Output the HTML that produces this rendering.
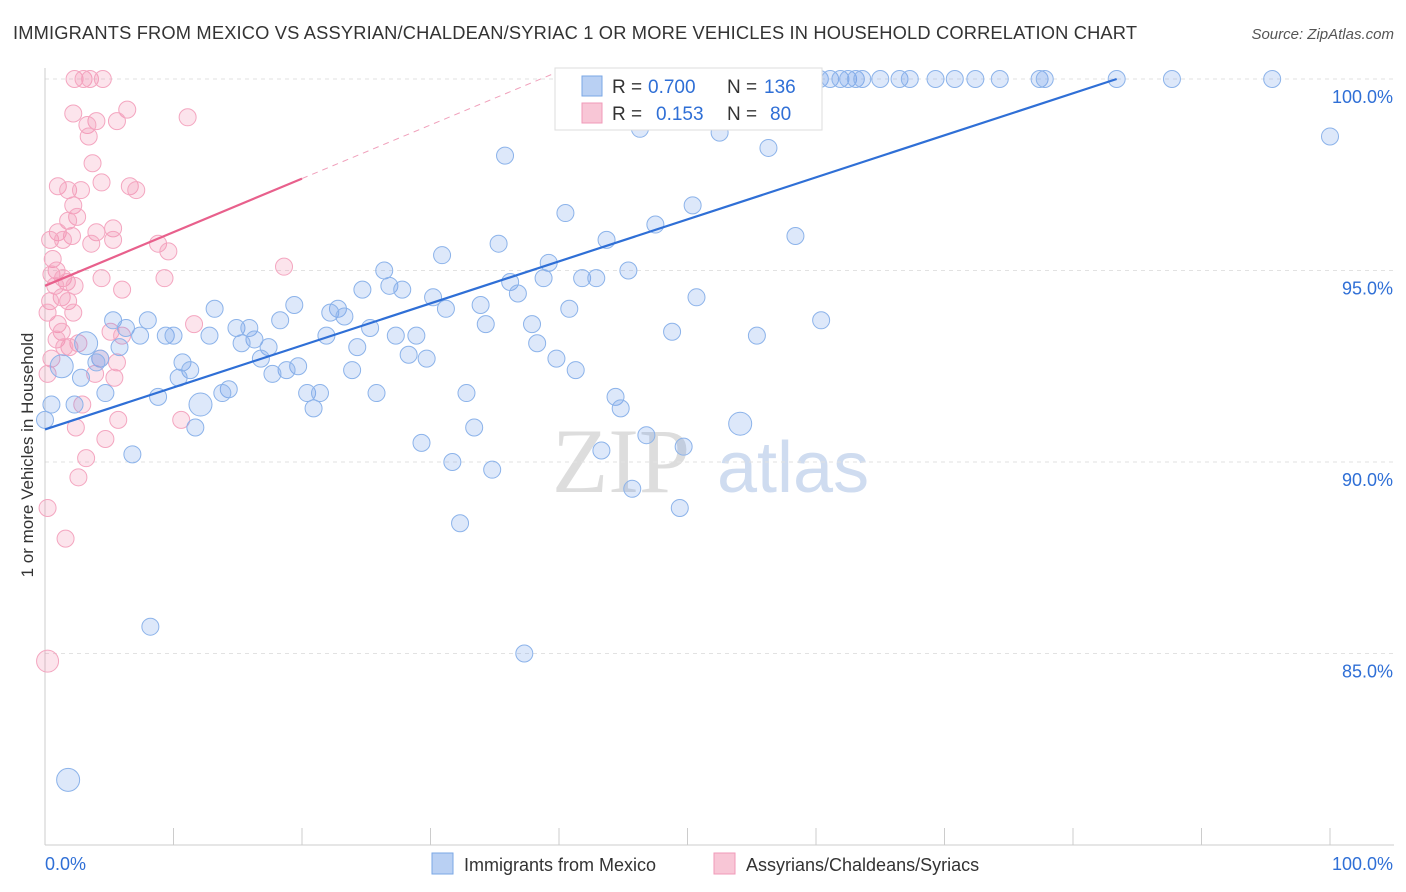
<!DOCTYPE html>
<html><head><meta charset="utf-8"><style>
body{margin:0;background:#fff;font-family:"Liberation Sans",sans-serif;}
svg{display:block}
</style></head><body>
<svg id="chart" width="1406" height="892">
<text x="13" y="39" font-size="18.3" fill="#333" textLength="1124">IMMIGRANTS FROM MEXICO VS ASSYRIAN/CHALDEAN/SYRIAC 1 OR MORE VEHICLES IN HOUSEHOLD CORRELATION CHART</text>
<text x="1394" y="39" font-size="15" fill="#555" font-style="italic" text-anchor="end">Source: ZipAtlas.com</text>
<text x="33" y="455" font-size="17" fill="#333" text-anchor="middle" transform="rotate(-90 33 455)">1 or more Vehicles in Household</text>
<g><text x="552" y="492" font-size="92" font-family="Liberation Serif,serif" fill="#ddd">ZIP</text><text x="717" y="492" font-size="72" fill="#cfdcf0">atlas</text></g>
<g id="grid"></g><g id="axes"></g><g id="pts"></g><g id="lines"></g>
<g>
<rect x="555" y="68" width="267" height="62" fill="#fff" stroke="#ddd"/>
<rect x="582" y="76" width="20" height="20" fill="#b9d0f3" stroke="#7aa7e6"/>
<rect x="582" y="103" width="20" height="20" fill="#f8c6d6" stroke="#f09ab8"/>
<text y="93" font-size="19" fill="#333"><tspan x="612">R =</tspan><tspan x="648" fill="#2f6fd6">0.700</tspan><tspan x="727">N =</tspan><tspan x="764" fill="#2f6fd6">136</tspan></text>
<text y="120" font-size="19" fill="#333"><tspan x="612">R =</tspan><tspan x="656" fill="#2f6fd6">0.153</tspan><tspan x="727">N =</tspan><tspan x="770" fill="#2f6fd6">80</tspan></text>
</g>
<g>
<rect x="432" y="853" width="21" height="21" fill="#b9d0f3" stroke="#7aa7e6"/>
<text x="464" y="871" font-size="18" fill="#333">Immigrants from Mexico</text>
<rect x="714" y="853" width="21" height="21" fill="#f8c6d6" stroke="#f09ab8"/>
<text x="746" y="871" font-size="18" fill="#333">Assyrians/Chaldeans/Syriacs</text>
</g>
</svg>
<script>
const blueX=[47.9,51.0,52.4,53.5,54.5,55.6,56.8,58.0,59.1,60.3,61.1,61.9,62.5,63.1,63.6,65.0,66.5,67.3,69.3,70.8,72.4,74.3,77.4,77.8,83.4,87.7,95.5,
100,51.6,46.3,52.5,56.3,35.8,40.5,47.5,50.4,58.4,35.3,43.7,30.9,39.2,26.4,45.4,36.2,38.8,41.8,42.9,26.8,24.7,27.8,36.8,30.2,50.7,19.4,33.9,13.2,22.8,22.2,31.2,40.8,23.3,8.0,5.3,18.3,60.4,34.3,37.9,14.9,6.3,15.9,25.3,12.8,9.4,10.0,7.4,21.9,27.3,28.9,48.8,55.4,3.2,16.3,15.3,38.3,17.4,5.8,24.3,28.3,4.3,39.8,29.7,16.8,10.7,4.0,1.3,11.3,19.7,18.8,23.9,41.3,2.8,10.4,17.7,14.3,13.8,4.7,8.8,20.4,21.4,25.8,32.8,44.4,0.5,2.3,12.1,20.9,44.8,0,54.1,11.7,33.4,46.8,29.3,49.7,43.3,6.8,31.7,34.8,45.7,49.4,32.3,8.2,37.3,1.8];
const blueY=[100,100,100,100,100,100,100,100,100,100,100,100,100,100,100,100,100,100,100,100,100,100,100,100,100,100,100,
98.5,99.2,98.7,98.6,98.2,98.0,96.5,96.2,96.7,95.9,95.7,95.8,95.4,95.2,95.0,95.0,94.7,94.8,94.8,94.8,94.6,94.5,94.5,94.4,94.3,94.3,94.1,94.1,94.0,94.0,93.9,94.0,94.0,93.8,93.7,93.7,93.7,93.7,93.6,93.6,93.5,93.5,93.5,93.5,93.3,93.3,93.3,93.3,93.3,93.3,93.3,93.4,93.3,93.1,93.2,93.1,93.1,93.0,93.0,93.0,92.8,92.7,92.7,92.7,92.7,92.6,92.6,92.5,92.4,92.5,92.4,92.4,92.4,92.2,92.2,92.3,91.9,91.8,91.8,91.7,91.8,91.8,91.8,91.8,91.7,91.5,91.5,91.5,91.4,91.4,91.1,91.0,90.9,90.9,90.7,90.5,90.4,90.3,90.2,90.0,89.8,89.3,88.8,88.4,85.7,85.0,81.7];
const pinkX=[2.3,3.0,3.5,4.5,2.2,6.4,4.0,3.3,5.6,11.1,3.4,3.7,4.4,1.0,1.8,2.8,6.6,7.1,2.2,2.5,1.8,5.3,1.0,4.0,2.1,0.4,1.4,3.6,5.3,8.8,9.6,0.6,18.6,0.9,0.5,1.4,4.4,9.3,1.7,0.8,2.3,6.0,1.3,0.4,1.8,0.2,2.2,1.0,11.6,1.3,5.1,6.0,0.9,2.6,1.9,1.5,4.3,0.5,5.6,0.2,3.9,5.4,2.9,10.6,5.7,2.4,4.7,3.2,2.6,0.2,1.6,0.2];
const pinkY=[100,100,100,100,99.1,99.2,98.9,98.8,98.9,99.0,98.5,97.8,97.3,97.2,97.1,97.1,97.2,97.1,96.7,96.4,96.3,96.1,96.0,96.0,95.9,95.8,95.8,95.7,95.8,95.7,95.5,95.3,95.1,95.0,94.9,94.8,94.8,94.8,94.7,94.6,94.6,94.5,94.3,94.2,94.2,93.9,93.9,93.6,93.6,93.4,93.4,93.3,93.2,93.1,93.0,93.0,92.7,92.7,92.6,92.3,92.3,92.2,91.5,91.1,91.1,90.9,90.6,90.1,89.6,88.8,88.0,84.8];
const blueLine=[0,90.85,83.4,100];
const pinkLine=[0,94.6,20,97.4,40,100.2];
const yTicks=[85,90,95,100];
const xTickVals=[0,10,20,30,40,50,60,70,80,90,100];
const NS='http://www.w3.org/2000/svg';
const X=v=>45+v*12.85, Y=v=>79+(100-v)*38.3;
function mk(p,t,a){const e=document.createElementNS(NS,t);for(const k in a)e.setAttribute(k,a[k]);p.appendChild(e);return e;}
const grid=document.getElementById('grid'),axes=document.getElementById('axes'),pts=document.getElementById('pts'),lines=document.getElementById('lines');
yTicks.forEach(v=>{const l=mk(grid,'line',{x1:45,x2:1394,y1:Y(v),y2:Y(v),stroke:'#e2e2e2','stroke-dasharray':'4 4'});


const t=mk(axes,'text',{x:1393,y:Y(v)+24,'font-size':18,fill:'#2f6fd6','text-anchor':'end'});t.textContent=v.toFixed(1)+'%';

});
mk(axes,'line',{x1:45,x2:1394,y1:845,y2:845,stroke:'#ccc'});
mk(axes,'line',{x1:45,x2:45,y1:68,y2:845,stroke:'#ccc'});
xTickVals.forEach(v=>{const l=mk(axes,'line',{x1:X(v),x2:X(v),y1:828,y2:845,stroke:'#ccc'});

});
[[0,'start','0.0%'],[100,'end','100.0%']].forEach(a=>{const t=mk(axes,'text',{x:a[0]==0?45:1393,y:870,'font-size':18,fill:'#2f6fd6','text-anchor':a[1]});t.textContent=a[2];

});
pinkX.forEach((x,i)=>{const big=(i==pinkX.length-1);const c=mk(pts,'circle',{cx:X(x),cy:Y(pinkY[i]),r:big?11:8.5,fill:'rgba(240,130,170,0.22)',stroke:'#f4a6c0','stroke-width':1});

});
const bigBlue=[80,94,114,118,blueX.length-1];
blueX.forEach((x,i)=>{const big=bigBlue.includes(i);const c=mk(pts,'circle',{cx:X(x),cy:Y(blueY[i]),r:big?11.5:8.5,fill:'rgba(100,150,230,0.22)',stroke:'#8cb3ea','stroke-width':1});

});
const bl=mk(lines,'line',{x1:X(blueLine[0]),y1:Y(blueLine[1]),x2:X(blueLine[2]),y2:Y(blueLine[3]),stroke:'#2f6fd6','stroke-width':2.2});


const pl=mk(lines,'line',{x1:X(pinkLine[0]),y1:Y(pinkLine[1]),x2:X(pinkLine[2]),y2:Y(pinkLine[3]),stroke:'#e8608c','stroke-width':2.2});


const pd=mk(lines,'line',{x1:X(pinkLine[2]),y1:Y(pinkLine[3]),x2:X(pinkLine[4]),y2:Y(pinkLine[5]),stroke:'#f0a0bb','stroke-width':1,'stroke-dasharray':'6 5'});


</script>
</body></html>
